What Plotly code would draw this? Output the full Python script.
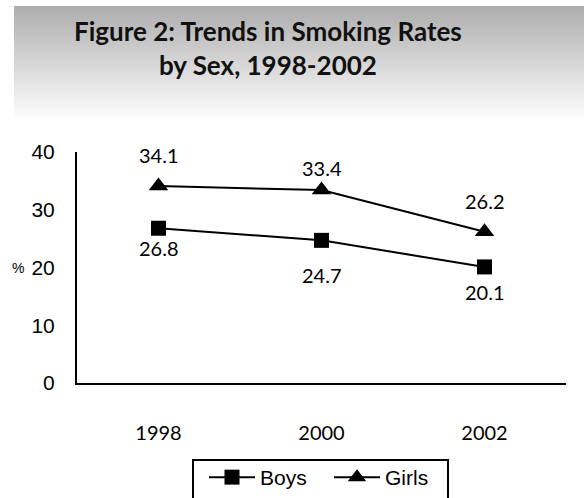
import base64
import plotly.graph_objects as go

# Survey data: smoking rates (%) by sex
years = ["1998", "2000", "2002"]
boys = [26.8, 24.7, 20.1]
girls = [34.1, 33.4, 26.2]
y_ticks = [0, 10, 20, 30, 40]
title_text = "Figure 2: Trends in Smoking Rates<br>by Sex, 1998-2002"

# vertical pixel nudges for the value labels (positive = down)
boys_label_shift = [20, 35, 25]
girls_label_shift = [-31, -22, -31]

GEO = "Lato, 'Open Sans', sans-serif"
ARIAL = "'Liberation Sans', Arial, sans-serif"

W, H = 584, 498
L, R, T, B = 77, 566, 152, 383
pw, ph = R - L, B - T


def px(x):
    return (x - L) / pw


def py(y):
    return (B - y) / ph


fig = go.Figure()
fig.add_trace(go.Scatter(
    x=years, y=boys, name="Boys", mode="lines+markers",
    line=dict(color="black", width=2),
    marker=dict(symbol="square", size=15, color="black"),
))
fig.add_trace(go.Scatter(
    x=years, y=girls, name="Girls", mode="lines+markers",
    line=dict(color="black", width=2),
    marker=dict(symbol="triangle-up", size=17, color="black"),
))

annotations = []
for series, shifts in ((boys, boys_label_shift), (girls, girls_label_shift)):
    for i, (v, s) in enumerate(zip(series, shifts)):
        annotations.append(dict(
            x=i, y=v, xref="x", yref="y", text=f"{v:.1f}",
            showarrow=False, yshift=-s,
            font=dict(family=GEO, size=20, color="black"),
        ))

# axis unit label
annotations.append(dict(
    x=px(18), y=py(268), xref="paper", yref="paper", text="%",
    xanchor="center", yanchor="middle",
    showarrow=False, font=dict(family=ARIAL, size=14, color="black"),
))

# bold two-line heading
annotations.append(dict(
    x=px(268), y=py(48), xref="paper", yref="paper",
    text=f"<b>{title_text}</b>", showarrow=False,
    xanchor="center", yanchor="middle", align="center",
    font=dict(family=GEO, size=26, color="#111111"),
))

# grey-to-white gradient banner behind the heading
svg = (
    '<svg xmlns="http://www.w3.org/2000/svg" width="570" height="115" preserveAspectRatio="none">'
    '<defs><linearGradient id="g" x1="0" y1="0" x2="0" y2="1">'
    '<stop offset="0" stop-color="#adadad"/><stop offset="1" stop-color="#ffffff"/>'
    '</linearGradient></defs><rect width="570" height="115" fill="url(#g)"/></svg>'
)
svg_uri = "data:image/svg+xml;base64," + base64.b64encode(svg.encode()).decode()

fig.update_layout(
    width=W, height=H,
    margin=dict(l=L, r=W - R, t=T, b=H - B, autoexpand=False),
    paper_bgcolor="white", plot_bgcolor="white",
    showlegend=True,
    images=[dict(
        source=svg_uri, xref="paper", yref="paper",
        x=px(14), y=py(6), sizex=(584 - 14) / pw, sizey=(121 - 6) / ph,
        xanchor="left", yanchor="top", sizing="stretch", layer="below",
    )],
    # frame around the legend entries
    shapes=[dict(
        type="rect", xref="paper", yref="paper",
        x0=px(193), x1=px(448), y0=py(460), y1=py(506),
        line=dict(color="black", width=2), fillcolor="rgba(0,0,0,0)",
    )],
    xaxis=dict(
        type="category", showgrid=False, zeroline=False,
        showline=True, linecolor="black", linewidth=2,
        ticks="", ticklabelstandoff=31,
        tickfont=dict(family=GEO, size=20, color="black"),
        range=[-0.5, 2.5],
    ),
    yaxis=dict(
        range=[0, 40], tickvals=y_ticks, showgrid=False, zeroline=False,
        showline=True, linecolor="black", linewidth=2,
        ticks="", ticklabelstandoff=16,
        tickfont=dict(family=ARIAL, size=21, color="black"),
    ),
    legend=dict(
        orientation="h", x=px(204), y=py(457), xanchor="left", yanchor="top",
        borderwidth=0, bgcolor="rgba(0,0,0,0)",
        font=dict(family=ARIAL, size=21, color="black"),
        itemwidth=46, entrywidth=64, entrywidthmode="pixels",
    ),
    annotations=annotations,
)

fig.write_html("out.html")
